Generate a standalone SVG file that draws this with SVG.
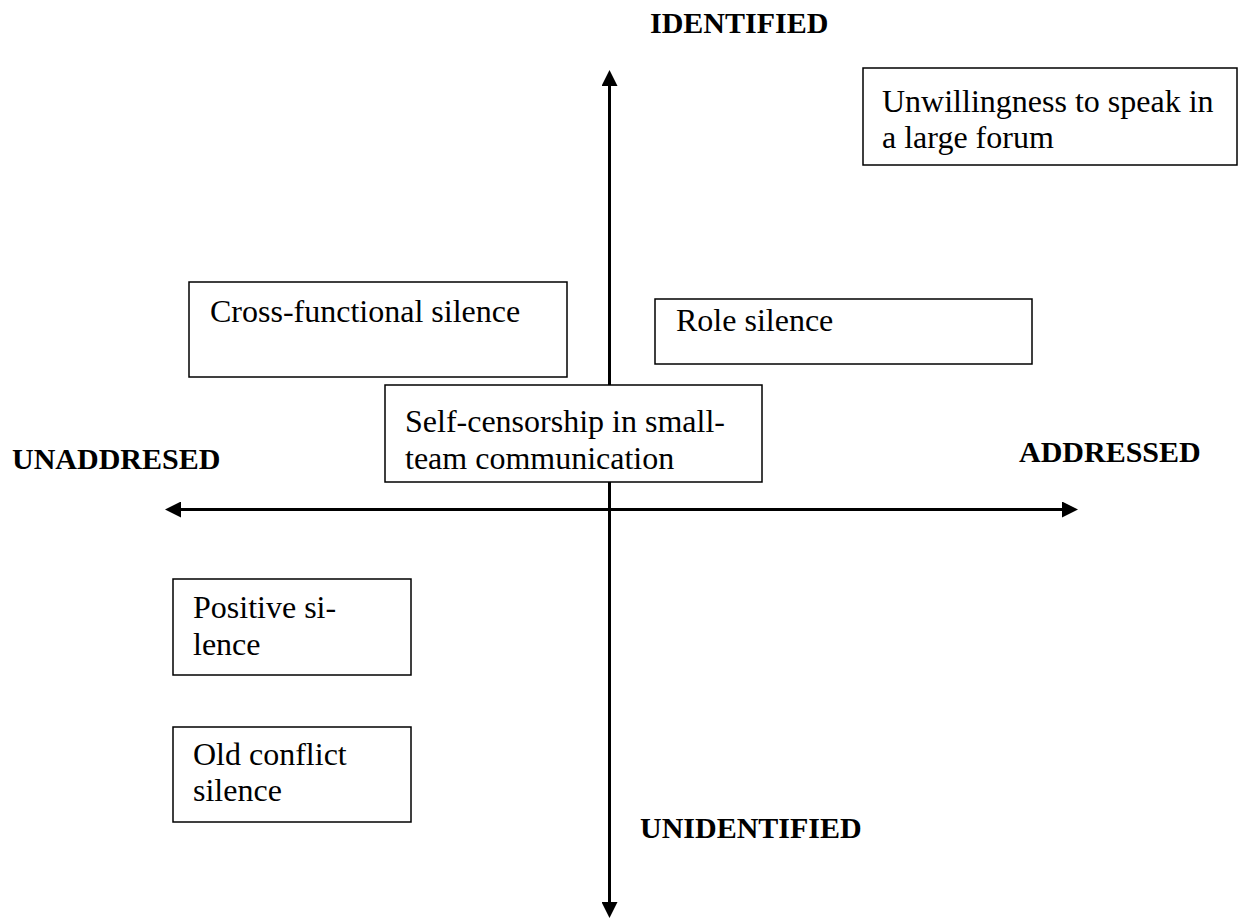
<svg xmlns="http://www.w3.org/2000/svg" width="1243" height="922" viewBox="0 0 1243 922">
<style>
.box{fill:#fff;stroke:#000;stroke-width:1.5}
.t{font-family:"Liberation Serif","Times New Roman",serif;font-size:32px;fill:#000}
.lab{font-family:"Liberation Serif","Times New Roman",serif;font-size:30px;font-weight:bold;fill:#000}
.axis{stroke:#000;stroke-width:3;fill:none}
</style>
<defs>
<marker id="ah" markerUnits="userSpaceOnUse" markerWidth="16" markerHeight="16" refX="0" refY="8" orient="auto">
<path d="M0,0 L16,8 L0,16 Z" fill="#000"/>
</marker>
</defs>
<rect width="1243" height="922" fill="#fff"/>
<g id="connectors">
<line class="axis" x1="609.5" y1="500" x2="609.5" y2="86" marker-end="url(#ah)"/>
<line class="axis" x1="609.5" y1="500" x2="609.5" y2="902" marker-end="url(#ah)"/>
<line class="axis" x1="620" y1="509.5" x2="181" y2="509.5" marker-end="url(#ah)"/>
<line class="axis" x1="600" y1="509.5" x2="1062" y2="509.5" marker-end="url(#ah)"/>
</g>
<g id="label-identified"><text class="lab" x="650" y="33">IDENTIFIED</text></g>
<g id="label-unidentified"><text class="lab" x="640" y="838">UNIDENTIFIED</text></g>
<g id="label-unaddresed"><text class="lab" x="12" y="469">UNADDRESED</text></g>
<g id="label-addressed"><text class="lab" x="1019" y="462">ADDRESSED</text></g>
<g id="node-unwillingness">
<rect class="box" x="863" y="68" width="374" height="97"/>
<text class="t" x="882" y="112">Unwillingness to speak in</text>
<text class="t" x="882" y="148">a large forum</text>
</g>
<g id="node-cross-functional">
<rect class="box" x="189" y="282" width="378" height="95"/>
<text class="t" x="210" y="322">Cross-functional silence</text>
</g>
<g id="node-role">
<rect class="box" x="655" y="299" width="377" height="65"/>
<text class="t" x="676" y="331">Role silence</text>
</g>
<g id="node-self-censorship">
<rect class="box" x="385" y="385" width="377" height="97"/>
<text class="t" x="405" y="432">Self-censorship in small-</text>
<text class="t" x="405" y="469">team communication</text>
</g>
<g id="node-positive">
<rect class="box" x="173" y="579" width="238" height="96"/>
<text class="t" x="193" y="618">Positive si-</text>
<text class="t" x="193" y="655">lence</text>
</g>
<g id="node-old-conflict">
<rect class="box" x="173" y="727" width="238" height="95"/>
<text class="t" x="193" y="765">Old conflict</text>
<text class="t" x="193" y="801">silence</text>
</g>
</svg>
